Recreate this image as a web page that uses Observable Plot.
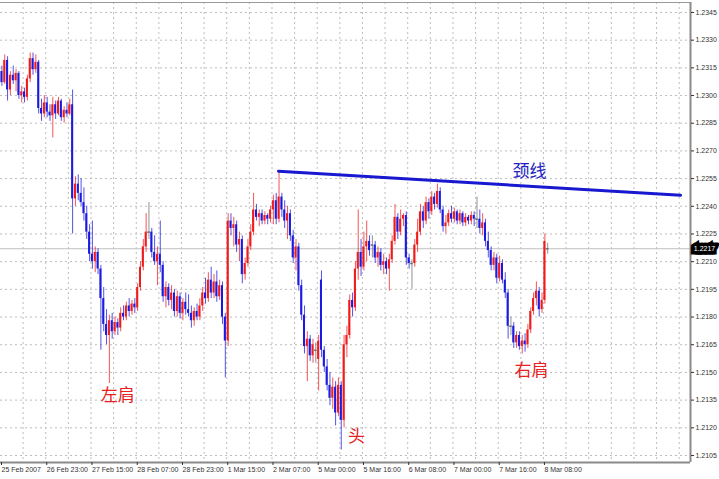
<!DOCTYPE html>
<html>
<head>
<meta charset="utf-8">
<script src="https://cdn.jsdelivr.net/npm/d3@7"></script>
<script src="https://cdn.jsdelivr.net/npm/@observablehq/plot@0.6"></script>
<style>
  html, body { margin: 0; padding: 0; background: #fff; }
  #chart { width: 719px; height: 479px; overflow: hidden; }
</style>
</head>
<body>
<div id="chart"></div>
<script>
// ---- Data (hourly EUR/USD-style candles) ----
const open = [
1.2313,1.2307,1.2319,1.2303,1.2311,1.2308,1.2312,1.2300,1.2302,1.2299,
1.2309,1.2320,1.2314,1.2318,1.2293,1.2290,1.2296,1.2291,1.2289,1.2295,
1.2290,1.2297,1.2288,1.2292,1.2290,1.2295,1.2244,1.2252,1.2247,1.2242,
1.2236,1.2226,1.2214,1.2210,1.2215,1.2206,1.2190,1.2176,1.2170,1.2178,
1.2172,1.2177,1.2174,1.2182,1.2180,1.2186,1.2183,1.2187,1.2185,1.2196,
1.2207,1.2218,1.2226,1.2226,1.2215,1.2210,1.2214,1.2208,1.2191,1.2196,
1.2189,1.2193,1.2183,1.2191,1.2182,1.2188,1.2184,1.2182,1.2178,1.2183,
1.2180,1.2186,1.2193,1.2190,1.2200,1.2193,1.2199,1.2191,1.2197,1.2180,
1.2167,1.2232,1.2228,1.2230,1.2219,1.2222,1.2203,1.2209,1.2218,1.2226,
1.2238,1.2234,1.2236,1.2232,1.2235,1.2233,1.2238,1.2243,1.2233,1.2245,
1.2238,1.2232,1.2236,1.2224,1.2212,1.2218,1.2197,1.2181,1.2164,1.2168,
1.2159,1.2162,1.2157,1.2200,1.2162,1.2153,1.2143,1.2136,1.2142,1.2128,
1.2143,1.2124,1.2165,1.2170,1.2189,1.2185,1.2206,1.2215,1.2207,1.2218,
1.2221,1.2219,1.2219,1.2212,1.2215,1.2208,1.2210,1.2206,1.2211,1.2221,
1.2234,1.2226,1.2233,1.2235,1.2212,1.2209,1.2209,1.2219,1.2226,1.2237,
1.2232,1.2242,1.2237,1.2245,1.2241,1.2248,1.2238,1.2229,1.2231,1.2236,
1.2233,1.2237,1.2232,1.2236,1.2231,1.2234,1.2232,1.2235,1.2233,1.2233,
1.2228,1.2231,1.2221,1.2216,1.2208,1.2212,1.2201,1.2209,1.2200,1.2193,
1.2175,1.2175,1.2166,1.2170,1.2164,1.2167,1.2165,1.2173,1.2183,1.2190,
1.2194,1.2184,1.2189,1.2217];
const high = [
1.2316,1.2322,1.2321,1.2313,1.2316,1.2314,1.2313,1.2305,1.2304,1.2311,
1.2323,1.2323,1.2322,1.2319,1.2298,1.2300,1.2299,1.2295,1.2299,1.2297,
1.2299,1.2298,1.2294,1.2296,1.2298,1.2303,1.2256,1.2257,1.2255,1.2250,
1.2240,1.2230,1.2232,1.2218,1.2217,1.2208,1.2196,1.2184,1.2181,1.2182,
1.2180,1.2179,1.2185,1.2186,1.2188,1.2190,1.2189,1.2190,1.2198,1.2210,
1.2222,1.2236,1.2242,1.2228,1.2224,1.2218,1.2232,1.2210,1.2199,1.2198,
1.2197,1.2195,1.2194,1.2193,1.2190,1.2193,1.2192,1.2186,1.2185,1.2187,
1.2190,1.2196,1.2201,1.2204,1.2207,1.2203,1.2205,1.2200,1.2199,1.2182,
1.2236,1.2236,1.2234,1.2232,1.2226,1.2224,1.2212,1.2222,1.2230,1.2247,
1.2241,1.2238,1.2238,1.2237,1.2236,1.2240,1.2246,1.2247,1.2259,1.2247,
1.2243,1.2240,1.2238,1.2227,1.2222,1.2220,1.2200,1.2186,1.2172,1.2170,
1.2168,1.2166,1.2170,1.2205,1.2164,1.2157,1.2150,1.2147,1.2145,1.2147,
1.2145,1.2170,1.2175,1.2192,1.2193,1.2210,1.2238,1.2222,1.2226,1.2232,
1.2224,1.2224,1.2221,1.2218,1.2217,1.2214,1.2212,1.2214,1.2224,1.2241,
1.2236,1.2238,1.2236,1.2237,1.2214,1.2211,1.2222,1.2233,1.2241,1.2240,
1.2245,1.2244,1.2248,1.2247,1.2252,1.2250,1.2240,1.2235,1.2238,1.2240,
1.2239,1.2238,1.2238,1.2237,1.2236,1.2235,1.2237,1.2237,1.2245,1.2238,
1.2236,1.2233,1.2226,1.2218,1.2215,1.2214,1.2213,1.2211,1.2204,1.2195,
1.2180,1.2177,1.2172,1.2172,1.2170,1.2171,1.2176,1.2185,1.2193,1.2199,
1.2196,1.2193,1.2225,1.2220];
const low = [
1.2305,1.2306,1.2297,1.2300,1.2306,1.2302,1.2298,1.2296,1.2296,1.2297,
1.2307,1.2311,1.2312,1.2290,1.2286,1.2288,1.2288,1.2286,1.2277,1.2287,
1.2289,1.2286,1.2285,1.2288,1.2289,1.2225,1.2240,1.2243,1.2240,1.2232,
1.2222,1.2210,1.2206,1.2204,1.2203,1.2162,1.2172,1.2165,1.2144,1.2168,
1.2170,1.2170,1.2172,1.2178,1.2178,1.2180,1.2181,1.2182,1.2183,1.2194,
1.2205,1.2215,1.2222,1.2212,1.2208,1.2197,1.2204,1.2188,1.2185,1.2186,
1.2184,1.2180,1.2180,1.2179,1.2178,1.2181,1.2180,1.2174,1.2175,1.2178,
1.2178,1.2183,1.2187,1.2188,1.2190,1.2190,1.2188,1.2189,1.2176,1.2147,
1.2164,1.2224,1.2218,1.2215,1.2210,1.2198,1.2200,1.2207,1.2216,1.2224,
1.2232,1.2229,1.2230,1.2230,1.2230,1.2231,1.2230,1.2230,1.2231,1.2234,
1.2228,1.2222,1.2221,1.2209,1.2205,1.2194,1.2178,1.2160,1.2145,1.2156,
1.2155,1.2155,1.2140,1.2158,1.2150,1.2140,1.2132,1.2130,1.2121,1.2126,
1.2108,1.2120,1.2158,1.2168,1.2180,1.2183,1.2200,1.2202,1.2205,1.2210,
1.2213,1.2212,1.2209,1.2207,1.2205,1.2203,1.2203,1.2194,1.2209,1.2219,
1.2222,1.2224,1.2229,1.2208,1.2206,1.2195,1.2207,1.2215,1.2224,1.2228,
1.2230,1.2233,1.2235,1.2238,1.2239,1.2236,1.2226,1.2225,1.2229,1.2231,
1.2231,1.2230,1.2230,1.2229,1.2229,1.2230,1.2230,1.2229,1.2228,1.2225,
1.2224,1.2218,1.2212,1.2205,1.2205,1.2198,1.2199,1.2198,1.2190,1.2168,
1.2170,1.2163,1.2163,1.2162,1.2160,1.2161,1.2163,1.2171,1.2181,1.2186,
1.2180,1.2182,1.2187,1.2214];
const close = [
1.2307,1.2319,1.2303,1.2311,1.2308,1.2312,1.2300,1.2302,1.2299,1.2309,
1.2320,1.2314,1.2318,1.2293,1.2290,1.2296,1.2291,1.2289,1.2295,1.2290,
1.2297,1.2288,1.2292,1.2290,1.2295,1.2244,1.2252,1.2247,1.2242,1.2236,
1.2226,1.2214,1.2210,1.2215,1.2206,1.2190,1.2176,1.2170,1.2178,1.2172,
1.2177,1.2174,1.2182,1.2180,1.2186,1.2183,1.2187,1.2185,1.2196,1.2207,
1.2218,1.2226,1.2226,1.2215,1.2210,1.2214,1.2208,1.2191,1.2196,1.2189,
1.2193,1.2183,1.2191,1.2182,1.2188,1.2184,1.2182,1.2178,1.2183,1.2180,
1.2186,1.2193,1.2190,1.2200,1.2193,1.2199,1.2191,1.2197,1.2180,1.2167,
1.2232,1.2228,1.2230,1.2219,1.2222,1.2203,1.2209,1.2218,1.2226,1.2238,
1.2234,1.2236,1.2232,1.2235,1.2233,1.2238,1.2243,1.2233,1.2245,1.2238,
1.2232,1.2236,1.2224,1.2212,1.2218,1.2197,1.2181,1.2164,1.2168,1.2159,
1.2165,1.2162,1.2167,1.2162,1.2153,1.2143,1.2136,1.2142,1.2128,1.2143,
1.2124,1.2165,1.2170,1.2189,1.2185,1.2206,1.2215,1.2207,1.2218,1.2221,
1.2216,1.2219,1.2212,1.2215,1.2208,1.2210,1.2206,1.2211,1.2221,1.2234,
1.2226,1.2233,1.2235,1.2212,1.2209,1.2209,1.2219,1.2226,1.2237,1.2232,
1.2242,1.2237,1.2245,1.2241,1.2248,1.2238,1.2229,1.2231,1.2236,1.2233,
1.2237,1.2232,1.2236,1.2231,1.2234,1.2232,1.2235,1.2233,1.2233,1.2228,
1.2231,1.2221,1.2216,1.2208,1.2212,1.2201,1.2209,1.2200,1.2193,1.2175,
1.2175,1.2166,1.2170,1.2164,1.2167,1.2165,1.2173,1.2183,1.2190,1.2194,
1.2184,1.2189,1.2221,1.2217];

// Price-axis tick values (right axis)
const yTicks = [1.2105,1.2120,1.2135,1.2150,1.2165,1.2180,1.2195,1.2210,1.2225,
                1.2240,1.2255,1.2270,1.2285,1.2300,1.2315,1.2330,1.2345];
// Time-axis tick labels at bar indices
const xTickBars = [0,16,32,48,64,80,96,112,128,144,160,176,192];
const xTickLabels = ["25 Feb 2007","26 Feb 23:00","27 Feb 15:00","28 Feb 07:00","28 Feb 23:00",
  "1 Mar 15:00","2 Mar 07:00","5 Mar 00:00","5 Mar 16:00","6 Mar 08:00","7 Mar 00:00",
  "7 Mar 16:00","8 Mar 08:00"];
// Neckline (bar index, price)
const neckBars = [97.8, 240];
const neckPrices = [1.2259, 1.2246];
// Annotations
const noteTexts = ["左肩","头","右肩","颈线"];
const noteBars = [41.0, 125.4, 187.3, 186.6];
const notePrices = [1.21375, 1.2115, 1.2151, 1.22589];

// ---- Build ----
const RED = "#f01c1c", BLUE = "#1a1ae0", GREY = "#6e6e6e";
const candles = open.map((o, i) => ({i, o, h: high[i], l: low[i], c: close[i]}));
const col = d => d.c > d.o ? RED : d.c < d.o ? BLUE : GREY;
const xDomain = [-0.5, 243.5];
const yDomain = [1.21012, 1.23504];
const last = close[close.length - 1];
const tickMap = new Map(xTickBars.map((b, k) => [b - 0.5, xTickLabels[k]]));
const gridBars = d3.range(7.5, 243, 8);
const neck = neckBars.map((b, k) => ({b, p: neckPrices[k]}));
const notes = noteTexts.map((t, k) => ({t, b: noteBars[k], p: notePrices[k]}));

const chart = Plot.plot({
  width: 719,
  height: 479,
  marginLeft: 0,
  marginRight: 29,
  marginTop: 2,
  marginBottom: 17,
  x: {domain: xDomain},
  y: {domain: yDomain},
  color: {type: "identity"},
  style: {fontFamily: "'Liberation Sans', Arial, sans-serif", fontSize: "7px", background: "#fff", color: "#333"},
  marks: [
    Plot.gridY(yTicks, {stroke: "#bdbdbd", strokeOpacity: 1, strokeDasharray: "2,3"}),
    Plot.gridX(gridBars, {stroke: "#bdbdbd", strokeOpacity: 1, strokeDasharray: "2,3"}),
    Plot.ruleY([last], {stroke: "#c0c0c0", strokeWidth: 1}),
    Plot.ruleX(candles, {x: "i", y1: "l", y2: "h", stroke: col, strokeOpacity: 0.75, strokeWidth: 1}),
    Plot.rectY(candles, {x1: d => d.i - 0.36, x2: d => d.i + 0.36, y1: "o", y2: "c", fill: col}),
    Plot.ruleY(candles.filter(d => d.o === d.c), {y: "c", x1: d => d.i - 0.45, x2: d => d.i + 0.45, stroke: GREY, strokeWidth: 1.5}),
    Plot.line(neck, {x: "b", y: "p", stroke: "#1818d0", strokeWidth: 3}),
    Plot.text(notes, {x: "b", y: "p", text: "t", fill: d => d.t === "颈线" ? "#2222c0" : "#e82020",
      fontSize: 17, fontFamily: "'Noto Sans CJK SC', sans-serif"}),
    Plot.ruleY([yDomain[0]], {stroke: "#8a8a8a", strokeWidth: 2}),
    Plot.ruleY([yDomain[1]], {stroke: "#9a9a9a", strokeWidth: 1}),
    Plot.ruleX([xDomain[1]], {stroke: "#8a8a8a", strokeWidth: 2}),
    Plot.axisY({anchor: "right", ticks: yTicks, tickFormat: d => d.toFixed(4), tickSize: 3, tickPadding: 2, fontSize: 7, label: null}),
    Plot.axisX({anchor: "bottom", ticks: [...tickMap.keys()], tickFormat: d => tickMap.get(d), tickSize: 3, tickPadding: 2,
      textAnchor: "start", dx: 1, fontSize: 7, label: null}),
    Plot.text([last], {x: xDomain[1], y: d => d, text: d => d.toFixed(4), dx: 14, fill: "#fff", stroke: "#000",
      strokeWidth: 7, strokeLinejoin: "miter", fontSize: 7, textAnchor: "middle"})
  ]
});
document.getElementById("chart").appendChild(chart);
</script>
</body>
</html>
